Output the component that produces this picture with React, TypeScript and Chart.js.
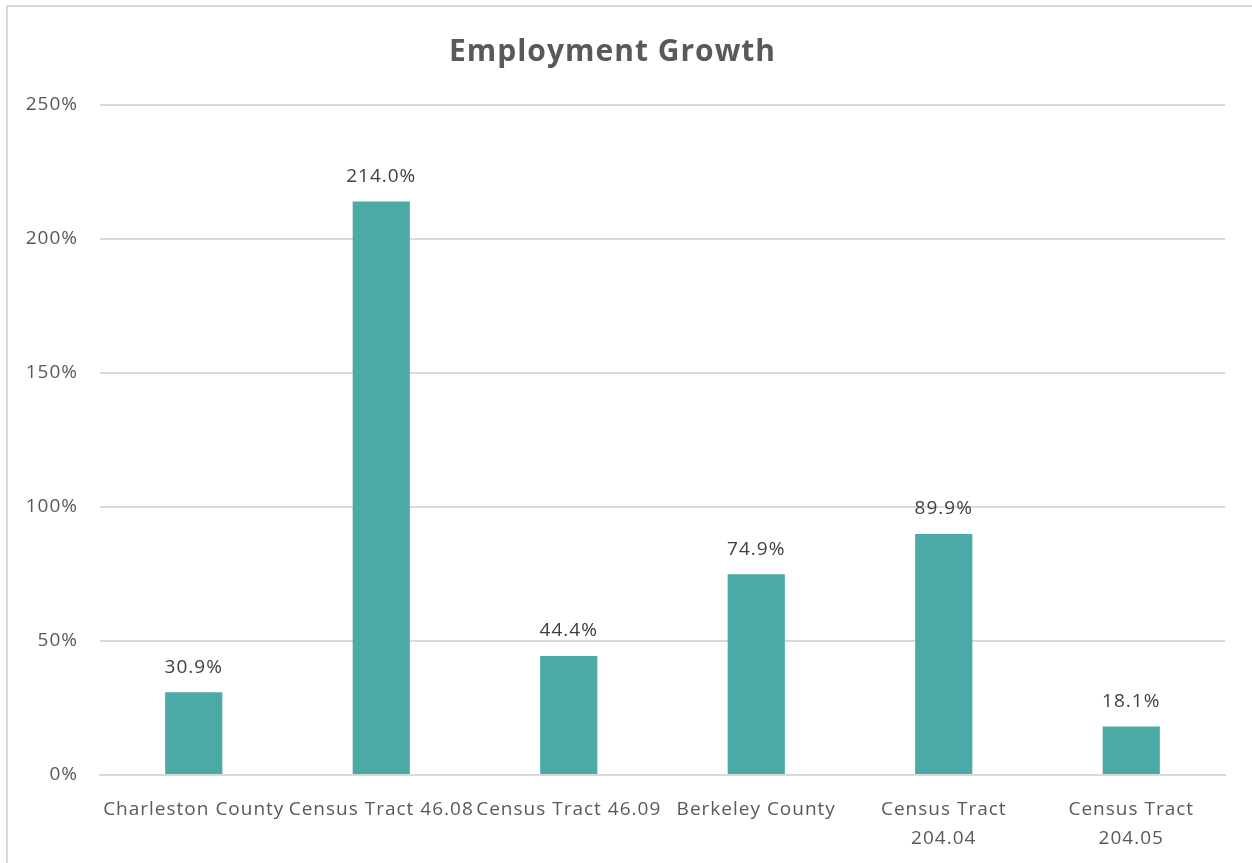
import React, { useEffect, useRef } from "react";
import { Chart, registerables } from "chart.js";

Chart.register(...registerables);

const categories: (string | string[])[] = [
  "Charleston County",
  "Census Tract 46.08",
  "Census Tract 46.09",
  "Berkeley County",
  ["Census Tract", "204.04"],
  ["Census Tract", "204.05"],
];
const growthValues = [30.9, 214.0, 44.4, 74.9, 89.9, 18.1];
const yTicks = [0, 50, 100, 150, 200, 250];
const chartTitle = "Employment Growth";

const FONT = "'Open Sans', Lato, sans-serif";

const spacingPlugin = {
  id: "letterSpacing",
  beforeUpdate(chart: any) {
    chart.ctx.letterSpacing = "1px";
  },
  beforeDraw(chart: any) {
    chart.ctx.letterSpacing = "1px";
  },
};

const dataLabelPlugin = {
  id: "dataLabels",
  afterDatasetsDraw(chart: any) {
    const ctx = chart.ctx;
    const meta = chart.getDatasetMeta(0);
    ctx.save();
    ctx.letterSpacing = "1px";
    ctx.font = `19px ${FONT}`;
    ctx.fillStyle = "#404040";
    ctx.textAlign = "center";
    ctx.textBaseline = "middle";
    meta.data.forEach((bar: any, i: number) => {
      const v = chart.data.datasets[0].data[i] as number;
      ctx.fillText(v.toFixed(1) + "%", bar.x, bar.y - 25);
    });
    ctx.restore();
  },
};

export default function App() {
  const ref = useRef<HTMLCanvasElement>(null);
  useEffect(() => {
    if (!ref.current) return;
    const chart = new Chart(ref.current, {
      type: "bar",
      data: {
        labels: categories,
        datasets: [
          {
            data: growthValues,
            backgroundColor: "#4BAAA6",
            borderWidth: 0,
            barPercentage: 0.305,
            categoryPercentage: 1,
          },
        ],
      },
      options: {
        animation: false,
        responsive: false,
        maintainAspectRatio: false,
        layout: { padding: { left: 0, right: 27, top: 0, bottom: 0 } },
        plugins: {
          legend: { display: false },
          tooltip: { enabled: false },
          title: {
            display: true,
            text: chartTitle,
            color: "#595959",
            font: { family: FONT, size: 30, weight: "bold" },
            padding: { top: 34, bottom: 35 },
          },
        },
        scales: {
          x: {
            grid: { display: false },
            border: { display: true, color: "#d9d9d9", width: 2 },
            ticks: {
              color: "#595959",
              font: { family: FONT, size: 19, lineHeight: 1.52 },
              maxRotation: 0,
              autoSkip: false,
              padding: 12,
            },
            afterFit: (scale: any) => {
              scale.height = 88;
            },
          },
          y: {
            min: 0,
            max: 250,
            afterBuildTicks: (scale: any) => {
              scale.ticks = yTicks.map((v) => ({ value: v }));
            },
            grid: { color: "#d9d9d9", lineWidth: 2, drawTicks: false },
            border: { display: false },
            ticks: {
              color: "#595959",
              font: { family: FONT, size: 19 },
              padding: 22,
              callback: (v: any) => v + "%",
            },
            afterFit: (scale: any) => {
              scale.width = 100;
            },
          },
        },
      },
      plugins: [spacingPlugin, dataLabelPlugin],
    });
    return () => chart.destroy();
  }, []);

  return (
    <div
      style={{
        position: "fixed",
        left: 0,
        top: 0,
        width: 1252,
        height: 863,
        overflow: "hidden",
        background: "#ffffff",
      }}
    >
      <canvas
        ref={ref}
        width={1252}
        height={863}
        style={{ position: "absolute", left: 0, top: 0, width: 1252, height: 863 }}
      />
      <div
        style={{
          position: "absolute",
          left: 6,
          top: 5,
          width: 1270,
          height: 880,
          border: "2px solid #d9d9d9",
          boxSizing: "border-box",
          pointerEvents: "none",
        }}
      />
    </div>
  );
}
